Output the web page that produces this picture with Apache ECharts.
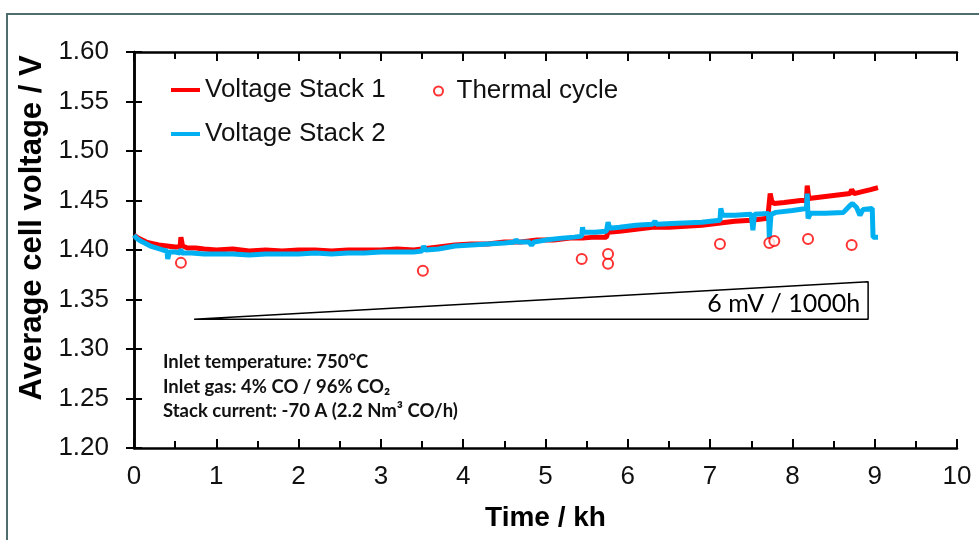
<!DOCTYPE html>
<html>
<head>
<meta charset="utf-8">
<script src="https://cdn.jsdelivr.net/npm/echarts@6/dist/echarts.min.js"></script>
<style>html,body{margin:0;padding:0;background:#fff}#c{width:979px;height:540px}</style>
</head>
<body>
<div id="c"></div>
<script>
// Time (kh), voltage (V)
var stack1 = [[0,1.415],[0.05,1.412],[0.1,1.410],[0.15,1.408],[0.2,1.407],[0.3,1.405],[0.4,1.404],[0.5,1.403],[0.56,1.403],[0.57,1.413],[0.59,1.404],[0.65,1.402],[0.75,1.402],[0.85,1.401],[1.0,1.400],[1.2,1.401],[1.4,1.399],[1.6,1.400],[1.8,1.399],[2.0,1.400],[2.2,1.400],[2.4,1.399],[2.6,1.400],[2.8,1.400],[3.0,1.400],[3.2,1.401],[3.4,1.400],[3.5,1.401],[3.7,1.403],[3.9,1.405],[4.1,1.406],[4.3,1.406],[4.5,1.408],[4.7,1.408],[4.9,1.410],[5.1,1.410],[5.3,1.412],[5.45,1.412],[5.6,1.413],[5.74,1.413],[5.76,1.418],[5.9,1.419],[6.1,1.421],[6.3,1.423],[6.5,1.423],[6.7,1.424],[6.9,1.425],[7.1,1.427],[7.3,1.429],[7.5,1.430],[7.7,1.432],[7.72,1.433],[7.73,1.457],[7.75,1.449],[7.78,1.447],[7.9,1.448],[8.0,1.449],[8.1,1.450],[8.17,1.450],[8.18,1.465],[8.2,1.452],[8.3,1.453],[8.4,1.454],[8.5,1.455],[8.6,1.456],[8.7,1.457],[8.72,1.461],[8.75,1.457],[8.85,1.459],[8.95,1.461],[9.04,1.463]];
var stack2 = [[0,1.415],[0.03,1.412],[0.08,1.409],[0.13,1.407],[0.2,1.404],[0.28,1.402],[0.35,1.400],[0.40,1.399],[0.41,1.391],[0.43,1.398],[0.5,1.398],[0.56,1.397],[0.57,1.401],[0.58,1.397],[0.7,1.397],[0.85,1.396],[1.0,1.396],[1.2,1.396],[1.4,1.395],[1.6,1.396],[1.8,1.396],[2.0,1.396],[2.2,1.397],[2.4,1.396],[2.6,1.397],[2.8,1.397],[3.0,1.398],[3.2,1.398],[3.4,1.398],[3.5,1.399],[3.52,1.404],[3.54,1.400],[3.7,1.401],[3.9,1.404],[4.1,1.405],[4.3,1.406],[4.5,1.407],[4.63,1.408],[4.64,1.411],[4.66,1.408],[4.8,1.408],[4.83,1.405],[4.86,1.408],[5.0,1.410],[5.2,1.412],[5.35,1.413],[5.44,1.414],[5.45,1.423],[5.46,1.418],[5.6,1.418],[5.74,1.419],[5.76,1.428],[5.78,1.422],[5.9,1.423],[6.1,1.425],[6.3,1.426],[6.33,1.429],[6.35,1.426],[6.6,1.427],[6.9,1.428],[7.12,1.430],[7.13,1.442],[7.15,1.435],[7.3,1.435],[7.5,1.436],[7.52,1.420],[7.54,1.436],[7.71,1.437],[7.72,1.412],[7.74,1.436],[7.8,1.438],[8.0,1.440],[8.17,1.442],[8.18,1.457],[8.19,1.432],[8.22,1.437],[8.4,1.437],[8.62,1.438],[8.7,1.445],[8.73,1.447],[8.78,1.443],[8.82,1.435],[8.86,1.441],[8.97,1.442],[8.98,1.413],[9.04,1.413]];
var thermalCycle = [[0.57,1.387],[3.51,1.379],[5.44,1.391],[5.76,1.396],[5.76,1.386],[7.12,1.406],[7.72,1.407],[7.78,1.409],[8.19,1.411],[8.72,1.405]];
var slopeTriangle = [[0.73,1.33],[8.92,1.368],[8.92,1.33],[0.73,1.33]];
var seriesNames = ['Voltage Stack 1','Voltage Stack 2','Thermal cycle'];
var xTitle = 'Time / kh';
var yTitle = 'Average cell voltage / V';
var slopeText = '6 mV / 1000h';
var noteLines = ['Inlet temperature: 750°C','Inlet gas: 4% CO / 96% CO₂','Stack current: -70 A (2.2 Nm³ CO/h)'];

var chart = echarts.init(document.getElementById('c'), null, {renderer:'canvas'});
var axisLine = {show:true, lineStyle:{color:'#000', width:2.5}};
var labelFont = {fontFamily:'Liberation Sans, Arial', fontSize:26, color:'#111'};
var xTick = {show:true, inside:false, length:-9, lineStyle:{color:'#000', width:2}};
var xMinor = {show:true, splitNumber:2, length:-7, lineStyle:{color:'#000', width:2}};
var yTick = {show:true, inside:false, length:-8, lineStyle:{color:'#000', width:2}};
var option = {
  animation:false,
  backgroundColor:'#fff',
  grid:{left:134, top:52, right:22, bottom:92, containLabel:false},
  xAxis:[{
    type:'value', min:0, max:10, interval:1, position:'bottom',
    axisLine:axisLine, axisTick:xTick, minorTick:xMinor,
    splitLine:{show:false},
    axisLabel:Object.assign({margin:16}, labelFont),
    name:xTitle, nameLocation:'middle', nameGap:56,
    nameTextStyle:{fontFamily:'Liberation Sans, Arial', fontWeight:'bold', fontSize:28, color:'#000'}
  },{
    type:'value', min:0, max:10, interval:1, position:'top',
    axisLine:axisLine, axisTick:xTick, minorTick:xMinor,
    splitLine:{show:false}, axisLabel:{show:false}
  }],
  yAxis:[{
    type:'value', min:1.2, max:1.6, interval:0.05, position:'left',
    axisLine:axisLine, axisTick:yTick,
    splitLine:{show:false},
    axisLabel:Object.assign({margin:25, formatter:function(v){return v.toFixed(2);}}, labelFont),
    name:yTitle, nameLocation:'middle', nameGap:84,
    nameTextStyle:{fontFamily:'Liberation Sans, Arial', fontWeight:'bold', fontSize:31, color:'#000', padding:[0,0,0,44]}
  },{
    type:'value', min:1.2, max:1.6, interval:0.05, position:'right',
    axisLine:axisLine, axisTick:yTick,
    splitLine:{show:false}, axisLabel:{show:false}
  }],
  legend:[{
    data:[seriesNames[0], seriesNames[1]], orient:'vertical', left:171, top:77, itemGap:18, padding:0,
    itemWidth:29, itemHeight:4, icon:'rect',
    textStyle:{fontFamily:'Liberation Sans, Arial', fontSize:26, color:'#111'}
  },{
    data:[seriesNames[2]], orient:'vertical', left:433, top:78, padding:0,
    itemWidth:26, itemHeight:9,
    textStyle:{fontFamily:'Liberation Sans, Arial', fontSize:26, color:'#111'}
  }],
  series:[{
    name:seriesNames[0], type:'line', data:stack1, showSymbol:false, symbol:'none',
    lineStyle:{color:'#ff0000', width:5}, itemStyle:{color:'#ff0000'}, z:3
  },{
    name:seriesNames[1], type:'line', data:stack2, showSymbol:false, symbol:'none',
    lineStyle:{color:'#00b0f0', width:5}, itemStyle:{color:'#00b0f0'}, z:4
  },{
    name:seriesNames[2], type:'scatter', data:thermalCycle, symbol:'emptyCircle', symbolSize:10,
    itemStyle:{color:'#ff0000', borderColor:'#ff0000', borderWidth:2}, z:5
  },{
    name:'slope', type:'line', data:slopeTriangle, symbol:'none', showSymbol:false,
    lineStyle:{color:'#000', width:1.5}, z:2, silent:true
  }]
};
chart.setOption(option);

var p = chart.convertToPixel({xAxisIndex:0, yAxisIndex:0}, slopeTriangle[1]);
var pb = chart.convertToPixel({xAxisIndex:0, yAxisIndex:0}, slopeTriangle[2]);
var graphics = [
  {type:'rect', shape:{x:7, y:14, width:1000, height:600}, style:{fill:'none', stroke:'#4f6d6d', lineWidth:2}, silent:true, z:0},
  {type:'text', x:p[0]-8, y:(p[1]+pb[1])/2+3, style:{text:slopeText, fontFamily:'Lato', fontSize:25, fill:'#000', align:'right', verticalAlign:'middle'}, z:10}
];
var noteY = [362, 387, 411];
for (var i=0;i<noteLines.length;i++){
  graphics.push({type:'text', x:163, y:noteY[i], style:{text:noteLines[i], fontFamily:'Lato', fontWeight:'bold', fontSize:18.5, fill:'#111', align:'left', verticalAlign:'middle'}, z:10});
}
chart.setOption({graphic:graphics});
</script>
</body>
</html>
